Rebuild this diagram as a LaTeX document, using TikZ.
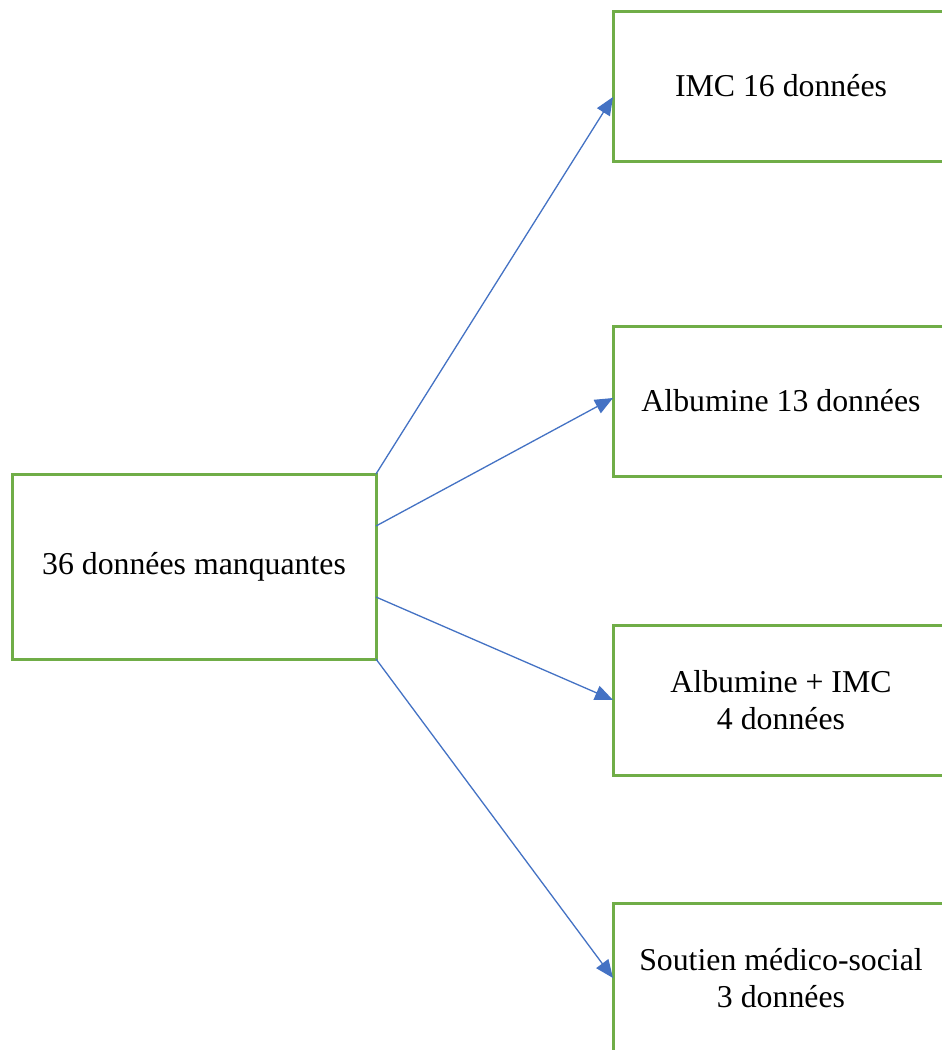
\documentclass[tikz,border=0pt]{standalone}
\usepackage{fontspec}
\setmainfont{Liberation Serif}
\usetikzlibrary{arrows.meta}
\definecolor{boxgreen}{HTML}{70AD47}
\definecolor{arrowblue}{HTML}{4472C4}
\begin{document}
\begin{tikzpicture}[x=1pt,y=-1pt,
  box/.style={draw=boxgreen,line width=3pt,fill=white,align=center,
    font=\fontsize{31.8}{36.5}\selectfont,inner sep=0pt,outer sep=0pt},
  rbox/.style={box,minimum width=336pt,minimum height=150pt},
  link/.style={draw=arrowblue,line width=1.3pt,-{Triangle[length=18pt,width=15pt]}}]
\useasboundingbox (0,0) rectangle (942,1050);
\clip (0,0) rectangle (942,1050);
\fill[white] (0,0) rectangle (942,1050);
\node[box,minimum width=364pt,minimum height=185pt] (src) at (194,566.5) {36 données manquantes};
\node[rbox] (imc) at (781,86) {IMC 16 données};
\node[rbox] (alb) at (781,401) {Albumine 13 données};
\node[rbox] (both) at (781,700) {Albumine + IMC\\4 données};
\node[rbox] (soc) at (781,978) {Soutien médico-social\\3 données};
\draw[link] (src.north east) -- ([yshift=-11pt]imc.west);
\draw[link] ([yshift=40.5pt]src.east) -- ([yshift=3pt]alb.west);
\draw[link] ([yshift=-30.5pt]src.east) -- (both.west);
\draw[link] (src.south east) -- (soc.west);
\end{tikzpicture}
\end{document}
